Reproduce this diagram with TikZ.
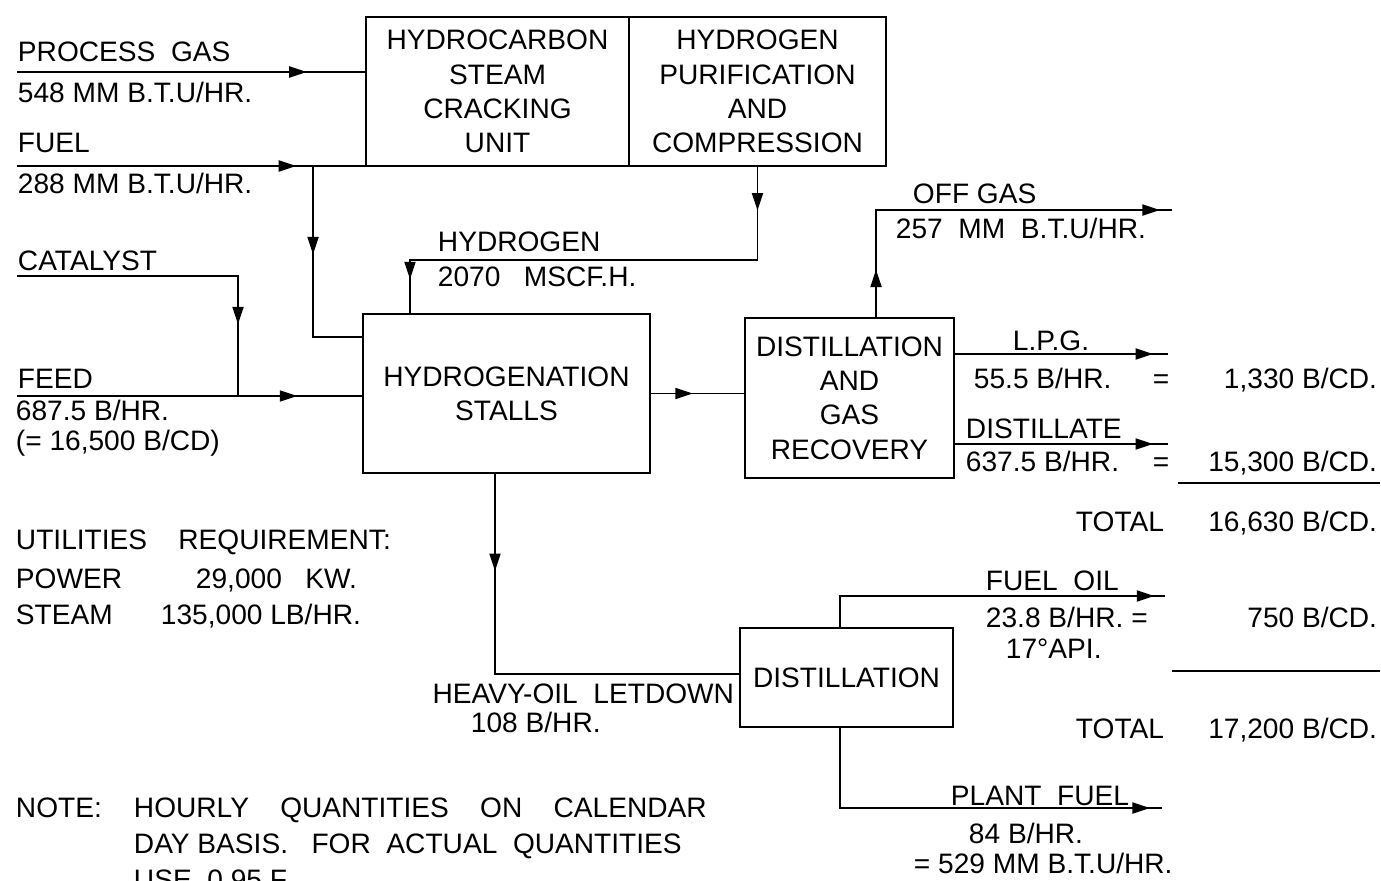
\documentclass[tikz,border=0pt]{standalone}
\usepackage{fontspec}
\setmainfont{Liberation Sans}
\usetikzlibrary{arrows.meta,calc,decorations.markings}

\begin{document}
\begin{tikzpicture}[x=0.02cm,y=-0.02cm,
    font=\fontsize{16}{19.5}\selectfont,
    line width=1.1pt,
    unit/.style={draw,line width=1.3pt,align=center,inner sep=0pt,outer sep=0pt},
    txt/.style={anchor=base west,inner sep=0pt},
    txtr/.style={anchor=base east,inner sep=0pt},
    flow/.style={postaction={decorate,decoration={markings,
        mark=at position #1 with {\arrow{Triangle[length=3.5mm,width=2.2mm]}}}}}]
  \useasboundingbox (0,0) rectangle (1381,880);

  % process units
  \node[unit,minimum width=5.26cm,minimum height=2.98cm] (crack) at (497.5,91.5)
    {HYDROCARBON\\STEAM\\CRACKING\\UNIT};
  \node[unit,minimum width=5.14cm,minimum height=2.98cm] (purif) at (757.5,91.5)
    {HYDROGEN\\PURIFICATION\\AND\\COMPRESSION};
  \node[unit,minimum width=5.74cm,minimum height=3.18cm] (hydro) at (506.5,393.5)
    {HYDROGENATION\\STALLS};
  \node[unit,minimum width=4.18cm,minimum height=3.2cm] (dgr) at (849.5,398)
    {DISTILLATION\\AND\\GAS\\RECOVERY};
  \node[unit,minimum width=4.26cm,minimum height=1.98cm] (dist) at (846.5,677.5)
    {DISTILLATION};

  % inlet streams
  \coordinate (pgin) at (17,72);
  \coordinate (fuin) at (17,166);
  \coordinate (fubr) at (313,166);
  \coordinate (fuhy) at (313,337);
  \coordinate (catin) at (17,276);
  \coordinate (catj) at (238,396);
  \coordinate (feedin) at (17,396);
  \draw[flow=0.83] (pgin) -- (pgin -| crack.west);
  \draw[flow=0.8] (fuin) -- (crack.south west);
  \draw[flow=0.4] (fubr) -- (fuhy) -- (fuhy -| hydro.west);
  \draw[flow=0.79] (catin) -| (catj);
  \draw[flow=0.81] (feedin) -- (feedin -| hydro.west);

  % hydrogen recycle
  \coordinate (h2bend) at (410,260);
  \draw[flow=0.09,flow=0.93] (purif.south) |- (h2bend) -- (h2bend |- hydro.north);

  % products
  \coordinate (ogbend) at (876,210);
  \coordinate (ogout) at (1172,210);
  \coordinate (lpgout) at (1168,354);
  \coordinate (dstout) at (1168,444);
  \coordinate (hobend) at (495,674);
  \coordinate (fobend) at (840,596);
  \coordinate (foout) at (1165,596);
  \coordinate (pfbend) at (840,808);
  \coordinate (pfout) at (1162,808);
  \draw[flow=0.45] (hydro.east) -- (hydro.east -| dgr.west);
  \draw[flow=0.12,flow=0.97] (ogbend |- dgr.north) -- (ogbend) -- (ogout);
  \draw[flow=0.93] (lpgout -| dgr.east) -- (lpgout);
  \draw[flow=0.93] (dstout -| dgr.east) -- (dstout);
  \draw[flow=0.22] (hobend |- hydro.south) -- (hobend) -- (hobend -| dist.west);
  \draw[flow=0.97] (fobend |- dist.north) -- (fobend) -- (foout);
  \draw[flow=0.97] (pfbend |- dist.south) -- (pfbend) -- (pfout);
  \draw (1178,483) -- (1380,483);
  \draw (1172,671) -- (1380,671);

  % stream labels
  \node[txt] (pgname) at (17,61) {PROCESS\ \ GAS};
  \node[txt] (pgrate) at (17,102) {548 MM B.T.U/HR.};
  \node[txt] (funame) at (17,152) {FUEL};
  \node[txt] (furate) at (17,193) {288 MM B.T.U/HR.};
  \node[txt] (catname) at (17,270) {CATALYST};
  \node[txt] (feedname) at (17,388) {FEED};
  \node[txt] (feedrate) at (15,420) {687.5 B/HR.};
  \node[txt] (feedcd) at (15,450) {(= 16,500 B/CD)};
  \node[txt] (h2name) at (437,251) {HYDROGEN};
  \node[txt] (h2rate) at (437,286) {2070\ \ \ MSCF.H.};
  \node[txt] (ogname) at (912,203) {OFF\ GAS};
  \node[txt] (ograte) at (895,238) {257\ \ MM\ \ B.T.U/HR.};
  \node[txt] (lpgname) at (1012,350) {L.P.G.};
  \node[txt] (lpgrate) at (973,388) {55.5 B/HR.};
  \node[txt] (lpgeq) at (1152,388) {=};
  \node[txtr] (lpgcd) at (1378,388) {1,330 B/CD.};
  \node[txt] (dstname) at (965,438) {DISTILLATE};
  \node[txt] (dstrate) at (965,471) {637.5 B/HR.};
  \node[txt] (dsteq) at (1152,471) {=};
  \node[txtr] (dstcd) at (1378,471) {15,300 B/CD.};
  \node[txt] (tot1name) at (1075,531) {TOTAL};
  \node[txtr] (tot1cd) at (1378,531) {16,630 B/CD.};
  \node[txt] (foname) at (985,590) {FUEL\ \ OIL};
  \node[txt] (forate) at (985,627) {23.8 B/HR. =};
  \node[txtr] (focd) at (1378,627) {750 B/CD.};
  \node[txt] (foapi) at (1005,658) {17°API.};
  \node[txt] (tot2name) at (1075,738) {TOTAL};
  \node[txtr] (tot2cd) at (1378,738) {17,200 B/CD.};
  \node[txt] (pfname) at (950,805) {PLANT\ \ FUEL};
  \node[txt] (pfrate) at (968,843) {84 B/HR.};
  \node[txt] (pfbtu) at (913,873) {= 529 MM B.T.U/HR.};
  \node[txtr] (honame) at (735,703) {HEAVY-OIL\ \ LETDOWN};
  \node[txt] (horate) at (470,732) {108 B/HR.};

  % utilities and note
  \node[txt] (utilhead) at (15,549) {UTILITIES\ \ \ \ REQUIREMENT:};
  \node[txt] (powname) at (15,588) {POWER};
  \node[txt] (powval) at (195,588) {29,000\ \ \ KW.};
  \node[txt] (stmname) at (15,624) {STEAM};
  \node[txt] (stmval) at (160,624) {135,000 LB/HR.};
  \node[txt] (notehead) at (15,817) {NOTE:};
  \node[txt] (note1) at (133,817) {HOURLY\ \ \ \ QUANTITIES\ \ \ \ ON\ \ \ \ CALENDAR};
  \node[txt] (note2) at (133,853) {DAY BASIS.\ \ \ FOR\ \ ACTUAL\ \ QUANTITIES};
  \node[txt] (note3) at (133,889) {USE\ \ 0.95 F.};
\end{tikzpicture}
\end{document}
